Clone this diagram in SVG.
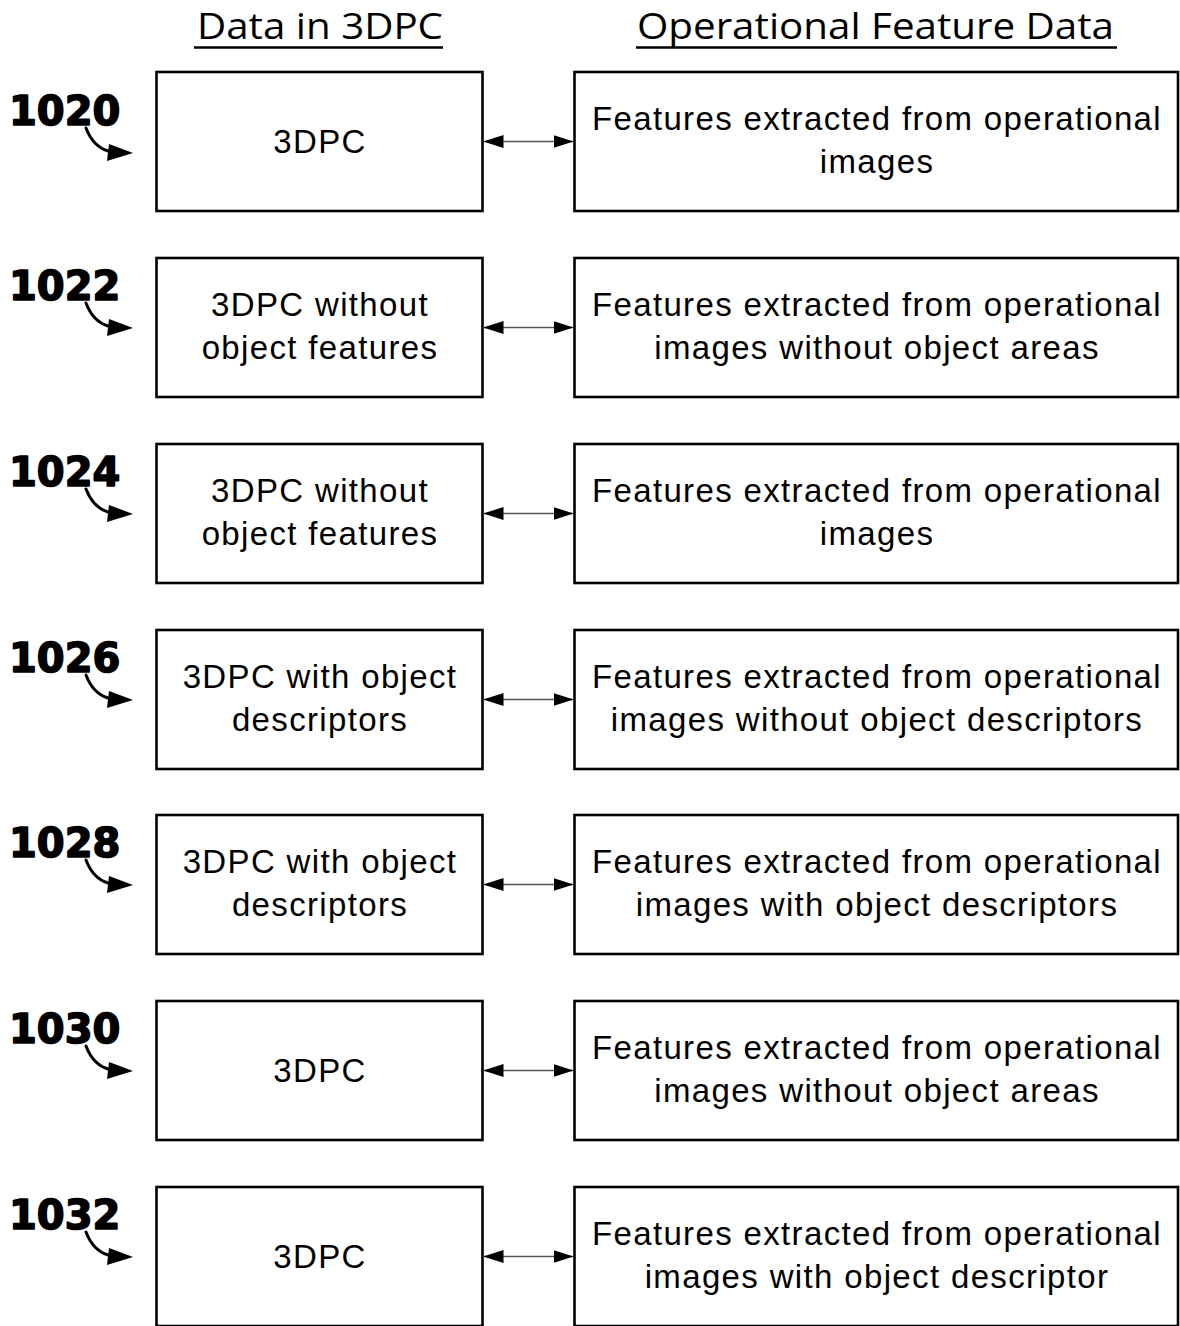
<svg xmlns="http://www.w3.org/2000/svg" width="1180" height="1326" viewBox="0 0 1180 1326">
  <style>
    .box { fill: #ffffff; stroke: #000000; stroke-width: 2.6; }
    .txt { font-family: "Liberation Sans", Arial, sans-serif; font-size: 33px; letter-spacing: 1.35px; text-anchor: middle; fill: #000000; }
    .head { font-family: "Open Sans", "Liberation Sans", sans-serif; font-size: 37px; fill: #000000; }
    .uline { stroke: #000000; stroke-width: 2.6; }
    .ref { font-family: "DejaVu Sans", "Liberation Sans", sans-serif; font-weight: bold; font-size: 40px; fill: #000000; stroke: #000000; stroke-width: 1.6; stroke-linejoin: round; }
    .refcurve { fill: none; stroke: #000000; stroke-width: 3; stroke-linecap: round; }
    .link { stroke: #555555; stroke-width: 1.3; marker-start: url(#tip); marker-end: url(#tip); }
  </style>
  <defs>
    <marker id="tip" markerUnits="userSpaceOnUse" markerWidth="20" markerHeight="13" refX="20" refY="6.5" orient="auto-start-reverse">
      <path d="M0,0 L20,6.5 L0,13 z" fill="#000000"/>
    </marker>
    <!-- reference numeral pointer: curved stroke ending in a solid head, tip at (133,0) -->
    <g id="pointer">
      <path class="refcurve" d="M86,-25 Q93,-6.5 108,-2"/>
      <polygon points="133,0 109,-9 107,8" fill="#000000"/>
    </g>
  </defs>

  <rect width="1180" height="1326" fill="#ffffff"/>

  <!-- column headings -->
  <g id="heading-left">
    <text class="head" x="197" y="39" textLength="246" lengthAdjust="spacingAndGlyphs">Data in 3DPC</text>
    <line class="uline" x1="194" y1="47.5" x2="443" y2="47.5"/>
  </g>
  <g id="heading-right">
    <text class="head" x="637" y="39" textLength="477" lengthAdjust="spacingAndGlyphs">Operational Feature Data</text>
    <line class="uline" x1="636" y1="47.5" x2="1117" y2="47.5"/>
  </g>

  <!-- reference numerals -->
  <g id="ref-1020" transform="translate(0,153)"><text class="ref" x="9" y="-28">1020</text><use href="#pointer"/></g>
  <g id="ref-1022" transform="translate(0,328)"><text class="ref" x="9" y="-28">1022</text><use href="#pointer"/></g>
  <g id="ref-1024" transform="translate(0,514)"><text class="ref" x="9" y="-28">1024</text><use href="#pointer"/></g>
  <g id="ref-1026" transform="translate(0,700)"><text class="ref" x="9" y="-28">1026</text><use href="#pointer"/></g>
  <g id="ref-1028" transform="translate(0,885)"><text class="ref" x="9" y="-28">1028</text><use href="#pointer"/></g>
  <g id="ref-1030" transform="translate(0,1071)"><text class="ref" x="9" y="-28">1030</text><use href="#pointer"/></g>
  <g id="ref-1032" transform="translate(0,1257)"><text class="ref" x="9" y="-28">1032</text><use href="#pointer"/></g>

  <!-- left column: data held in the 3D point cloud -->
  <g id="pc-1020"><rect class="box" x="156.5" y="72" width="326" height="139"/><text class="txt" x="320" y="153">3DPC</text></g>
  <g id="pc-1022"><rect class="box" x="156.5" y="258" width="326" height="139"/><text class="txt" x="320" y="316">3DPC without</text><text class="txt" x="320" y="359">object features</text></g>
  <g id="pc-1024"><rect class="box" x="156.5" y="444" width="326" height="139"/><text class="txt" x="320" y="502">3DPC without</text><text class="txt" x="320" y="545">object features</text></g>
  <g id="pc-1026"><rect class="box" x="156.5" y="630" width="326" height="139"/><text class="txt" x="320" y="688">3DPC with object</text><text class="txt" x="320" y="731">descriptors</text></g>
  <g id="pc-1028"><rect class="box" x="156.5" y="815" width="326" height="139"/><text class="txt" x="320" y="873">3DPC with object</text><text class="txt" x="320" y="916">descriptors</text></g>
  <g id="pc-1030"><rect class="box" x="156.5" y="1001" width="326" height="139"/><text class="txt" x="320" y="1082">3DPC</text></g>
  <g id="pc-1032"><rect class="box" x="156.5" y="1187" width="326" height="139"/><text class="txt" x="320" y="1268">3DPC</text></g>

  <!-- right column: operational feature data -->
  <g id="op-1020"><rect class="box" x="574.5" y="72" width="603.5" height="139"/><text class="txt" x="877" y="130">Features extracted from operational</text><text class="txt" x="877" y="173">images</text></g>
  <g id="op-1022"><rect class="box" x="574.5" y="258" width="603.5" height="139"/><text class="txt" x="877" y="316">Features extracted from operational</text><text class="txt" x="877" y="359">images without object areas</text></g>
  <g id="op-1024"><rect class="box" x="574.5" y="444" width="603.5" height="139"/><text class="txt" x="877" y="502">Features extracted from operational</text><text class="txt" x="877" y="545">images</text></g>
  <g id="op-1026"><rect class="box" x="574.5" y="630" width="603.5" height="139"/><text class="txt" x="877" y="688">Features extracted from operational</text><text class="txt" x="877" y="731">images without object descriptors</text></g>
  <g id="op-1028"><rect class="box" x="574.5" y="815" width="603.5" height="139"/><text class="txt" x="877" y="873">Features extracted from operational</text><text class="txt" x="877" y="916">images with object descriptors</text></g>
  <g id="op-1030"><rect class="box" x="574.5" y="1001" width="603.5" height="139"/><text class="txt" x="877" y="1059">Features extracted from operational</text><text class="txt" x="877" y="1102">images without object areas</text></g>
  <g id="op-1032"><rect class="box" x="574.5" y="1187" width="603.5" height="139"/><text class="txt" x="877" y="1245">Features extracted from operational</text><text class="txt" x="877" y="1288">images with object descriptor</text></g>

  <!-- two-way links between paired boxes -->
  <g id="connectors">
    <line class="link" x1="483.5" y1="141.5" x2="573.5" y2="141.5"/>
    <line class="link" x1="483.5" y1="327.5" x2="573.5" y2="327.5"/>
    <line class="link" x1="483.5" y1="513.5" x2="573.5" y2="513.5"/>
    <line class="link" x1="483.5" y1="699.5" x2="573.5" y2="699.5"/>
    <line class="link" x1="483.5" y1="884.5" x2="573.5" y2="884.5"/>
    <line class="link" x1="483.5" y1="1070.5" x2="573.5" y2="1070.5"/>
    <line class="link" x1="483.5" y1="1256.5" x2="573.5" y2="1256.5"/>
  </g>
</svg>
